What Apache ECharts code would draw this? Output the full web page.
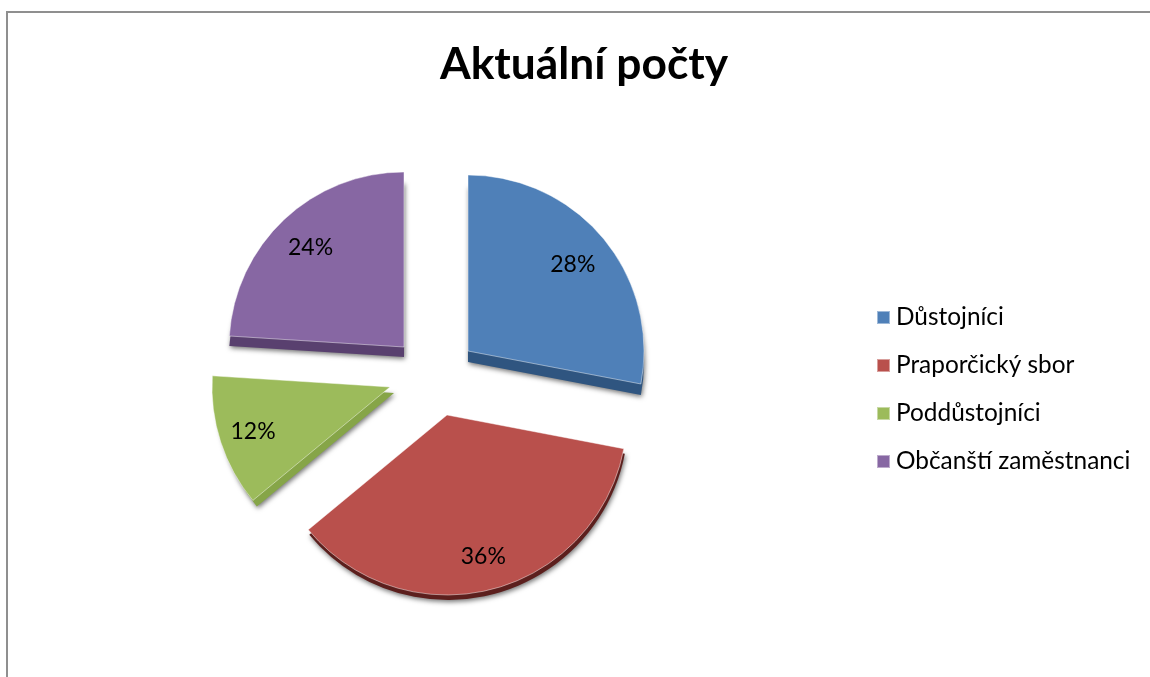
<!DOCTYPE html>
<html><head><meta charset="utf-8">
<script src="https://cdn.jsdelivr.net/npm/echarts@6/dist/echarts.min.js"></script>
<style>html,body{margin:0;padding:0;background:#fff}#c{width:1150px;height:677px}</style>
</head><body><div id="c"></div>
<script>
const categories = ['Důstojníci','Praporčický sbor','Poddůstojníci','Občanští zaměstnanci'];
const values = [28,36,12,24];
const colors = ['#4f80b8','#b9504c','#9cbb5b','#8767a3'];
const sideColors = ['#2f5580','#5c1f1d','#86a548','#59406f'];
// layout of the exploded slices (tip position, radius, depth offset, label ring start)
const tips = [[468,351],[447,415],[390,387],[404,347]];
const radii = [176,180,178,175];
const depth = [[0,11],[1,5],[4,6],[0,10]];
const labelInner = [90,106,104,92];
const font = 'Lato, Carlito, Calibri, "Open Sans", sans-serif';
const chart = echarts.init(document.getElementById('c'));
const base = {type:'pie',startAngle:90,clockwise:true,animation:false,silent:true,labelLine:{show:false},emphasis:{disabled:true},minShowLabelAngle:0};
const invisible = {color:'transparent',borderWidth:0,shadowBlur:0};
function sliceData(i, style, tag){
  return categories.map((name,j)=>({
    name: (j===i && tag==='') ? name : name+' #'+tag+i,
    value: values[j],
    itemStyle: j===i ? style : invisible,
    label: {show: tag==='l' && j===i}
  }));
}
const series = [];
categories.forEach((_,i)=>{
  series.push(Object.assign({},base,{name:'side'+i,center:[tips[i][0]+depth[i][0],tips[i][1]+depth[i][1]],radius:[0,radii[i]],label:{show:false},
    data:sliceData(i,{color:sideColors[i],shadowBlur:5,shadowColor:'rgba(0,0,0,0.55)',shadowOffsetX:1,shadowOffsetY:2},'s')}));
});
categories.forEach((_,i)=>{
  series.push(Object.assign({},base,{name:'top'+i,center:tips[i],radius:[0,radii[i]],label:{show:false},
    data:sliceData(i,{color:colors[i],borderColor:'rgba(255,255,255,0.45)',borderWidth:1},'')}));
});
categories.forEach((_,i)=>{
  series.push(Object.assign({},base,{name:'label'+i,center:tips[i],radius:[labelInner[i],radii[i]],
    label:{position:'inside',formatter:'{d}%',fontFamily:font,fontSize:23,color:'#000'},
    data:sliceData(i,{color:'transparent'},'l')}));
});
chart.setOption({
  title:{text:'Aktuální počty',left:579,top:38,textAlign:'center',textStyle:{fontFamily:font,fontSize:44.3,fontWeight:'bold',color:'#000'}},
  legend:{orient:'vertical',left:871,top:299,itemWidth:13,itemHeight:13,itemGap:21,icon:'rect',selectedMode:false,
    data:categories,textStyle:{fontFamily:font,fontSize:24.4,color:'#000',lineHeight:27,height:27,padding:[0,0,0,1]}},
  graphic:[{type:'polyline',silent:true,shape:{points:[[7,677],[7,12],[1150,12]]},style:{stroke:'#8f8f8f',lineWidth:2,fill:null}}],
  series
});
</script></body></html>
